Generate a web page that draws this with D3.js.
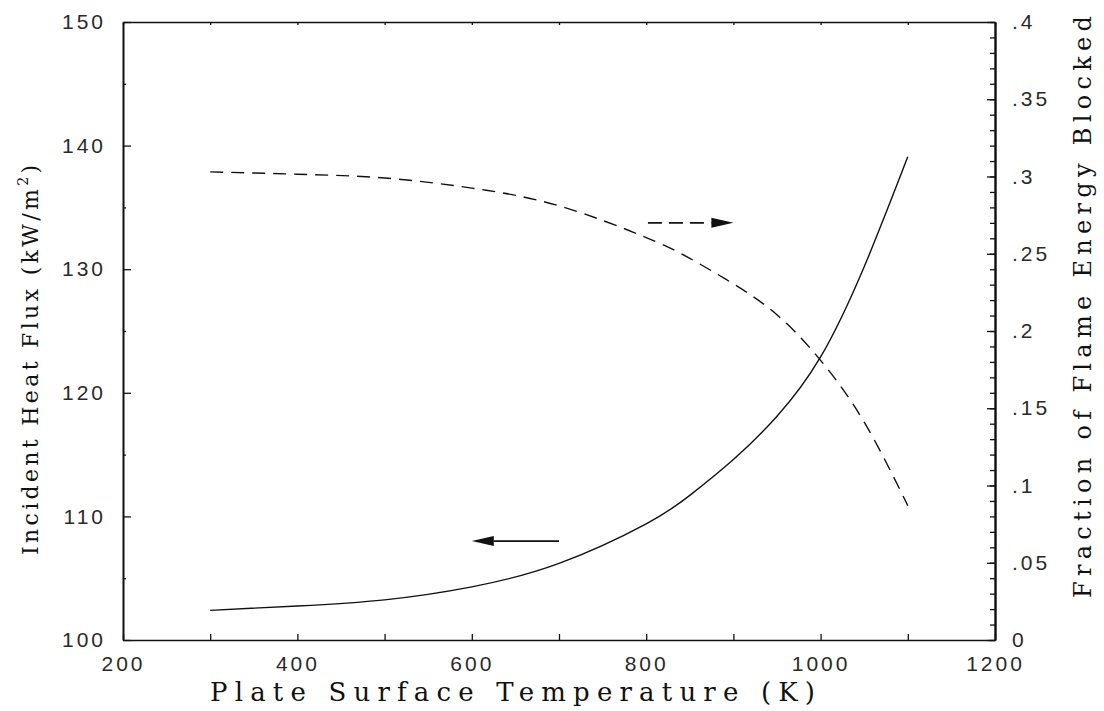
<!DOCTYPE html>
<html>
<head>
<meta charset="utf-8">
<script src="https://cdn.jsdelivr.net/npm/d3@7"></script>
<style>
  body { margin: 0; background: #fff; }
  .tick text { font-family: 'Liberation Sans', Arial, sans-serif; font-size: 21px; letter-spacing: 3px; fill: #2a2a2a; }
  .title { font-family: 'DejaVu Serif', serif; fill: #111; }
</style>
</head>
<body>
<div id="chart"></div>
<script>
// incident heat flux (left axis), solid line
var fluxTemp = [300, 400, 500, 600, 700, 800, 850, 900, 950, 1000, 1050, 1100];
var fluxVals = [102.4, 102.75, 103.25, 104.3, 106.2, 109.4, 111.7, 114.6, 118.1, 122.9, 130.2, 139.1];

// fraction of flame energy blocked (right axis), dashed line
var fracTemp = [300, 400, 500, 600, 700, 800, 850, 900, 950, 1000, 1050, 1100];
var fracVals = [0.303, 0.3015, 0.299, 0.2925, 0.281, 0.2605, 0.247, 0.2305, 0.2105, 0.181, 0.141, 0.087];

// arrows: [from temp, to temp, value]
var fluxArrow = [700, 600, 108];
var fracArrow = [802, 900, 0.270];

var xTicks = d3.range(200, 1201, 100);
var leftMajor = d3.range(100, 151, 10);
var leftMinor = d3.range(105, 150, 10);
var rightMajor = [0, 0.05, 0.1, 0.15, 0.2, 0.25, 0.3, 0.35, 0.4];
var rightMinor = d3.range(0, 41, 1).map(function(d) { return d / 100; });

var plotL = 123, plotR = 995, plotT = 22, plotB = 640;

var svg = d3.select('#chart').append('svg')
    .attr('width', 1104)
    .attr('height', 711);

var x = d3.scaleLinear().domain([200, 1200]).range([plotL, plotR]);
var yL = d3.scaleLinear().domain([100, 150]).range([plotB, plotT]);
var yR = d3.scaleLinear().domain([0, 0.4]).range([plotB, plotT]);

function styleAxis(g) {
    g.select('.domain').attr('stroke', '#111').attr('stroke-width', 1.6);
    g.selectAll('.tick line').attr('stroke', '#111').attr('stroke-width', 1.3);
}

// bottom axis
svg.append('g')
    .attr('transform', 'translate(0,' + plotB + ')')
    .call(d3.axisBottom(x).tickValues(xTicks).tickSizeInner(-6).tickSizeOuter(0).tickPadding(16)
        .tickFormat(function(d) { return d % 200 === 0 ? d : ''; }))
    .call(styleAxis);

// top axis
svg.append('g')
    .attr('transform', 'translate(0,' + plotT + ')')
    .call(d3.axisTop(x).tickValues(xTicks).tickSizeInner(-3).tickSizeOuter(0).tickFormat(''))
    .call(styleAxis);

// left axis
svg.append('g')
    .attr('transform', 'translate(' + plotL + ',0)')
    .call(d3.axisLeft(yL).tickValues(leftMinor).tickSizeInner(-3).tickSizeOuter(0).tickFormat(''))
    .call(styleAxis);
svg.append('g')
    .attr('transform', 'translate(' + plotL + ',0)')
    .call(d3.axisLeft(yL).tickValues(leftMajor).tickSizeInner(-8).tickSizeOuter(0).tickPadding(17))
    .call(styleAxis);

// right axis
svg.append('g')
    .attr('transform', 'translate(' + plotR + ',0)')
    .call(d3.axisRight(yR).tickValues(rightMinor).tickSizeInner(-5).tickSizeOuter(0).tickFormat(''))
    .call(styleAxis);
svg.append('g')
    .attr('transform', 'translate(' + plotR + ',0)')
    .call(d3.axisRight(yR).tickValues(rightMajor).tickSizeInner(-8).tickSizeOuter(0).tickPadding(17)
        .tickFormat(function(d) { return d === 0 ? '0' : d3.format('.2~f')(d).replace(/^0/, ''); }))
    .call(styleAxis)
    .select('.domain').attr('stroke-width', 2.2);

// curves
var fluxLine = d3.line()
    .x(function(d, i) { return x(fluxTemp[i]); })
    .y(function(d) { return yL(d); })
    .curve(d3.curveNatural);

var fracLine = d3.line()
    .x(function(d, i) { return x(fracTemp[i]); })
    .y(function(d) { return yR(d); })
    .curve(d3.curveNatural);

svg.append('path')
    .attr('d', fluxLine(fluxVals))
    .attr('fill', 'none')
    .attr('stroke', '#111')
    .attr('stroke-width', 1.4);

svg.append('path')
    .attr('d', fracLine(fracVals))
    .attr('fill', 'none')
    .attr('stroke', '#111')
    .attr('stroke-width', 1.4)
    .attr('stroke-dasharray', '13,8');

// arrows
function arrow(x0, x1, yy, dashed) {
    var dir = x1 > x0 ? 1 : -1;
    var headLen = 22, headHalf = 5;
    svg.append('line')
        .attr('x1', x0).attr('y1', yy)
        .attr('x2', x1 - dir * headLen).attr('y2', yy)
        .attr('stroke', '#111')
        .attr('stroke-width', 1.6)
        .attr('stroke-dasharray', dashed ? '14,7' : null);
    svg.append('path')
        .attr('d', 'M' + x1 + ',' + yy + 'L' + (x1 - dir * headLen) + ',' + (yy - headHalf) +
            'L' + (x1 - dir * headLen) + ',' + (yy + headHalf) + 'Z')
        .attr('fill', '#111');
}
arrow(x(fluxArrow[0]), x(fluxArrow[1]), yL(fluxArrow[2]), false);
arrow(x(fracArrow[0]), x(fracArrow[1]), yR(fracArrow[2]), true);

// titles
svg.append('text')
    .attr('class', 'title')
    .attr('x', 210).attr('y', 701)
    .attr('font-size', 26)
    .attr('textLength', 605)
    .attr('lengthAdjust', 'spacing')
    .text('Plate Surface Temperature (K)');

var lt = svg.append('text')
    .attr('class', 'title')
    .attr('transform', 'translate(38,555) rotate(-90)')
    .attr('font-size', 22)
    .attr('textLength', 390)
    .attr('lengthAdjust', 'spacing');
lt.append('tspan').text('Incident Heat Flux (kW/m');
lt.append('tspan').attr('font-size', 14).attr('dy', -10).text('2');
lt.append('tspan').attr('dy', 10).text(')');

svg.append('text')
    .attr('class', 'title')
    .attr('transform', 'translate(1091,598) rotate(-90)')
    .attr('font-size', 24)
    .attr('textLength', 582)
    .attr('lengthAdjust', 'spacing')
    .text('Fraction of Flame Energy Blocked');
</script>
</body>
</html>
